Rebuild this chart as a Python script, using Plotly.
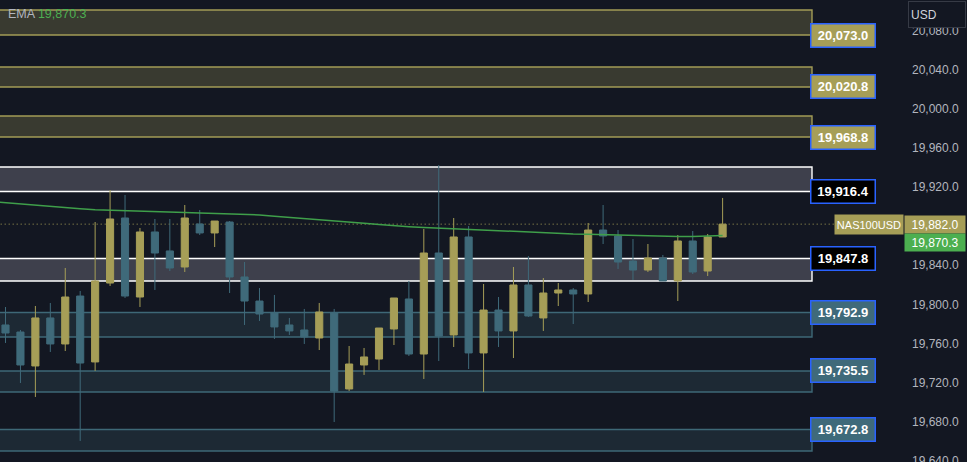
import plotly.graph_objects as go

# ---------------- data ----------------
opens = [19778.9, 19771.7, 19737.0, 19786.1, 19759.5, 19808.5, 19741.1, 19821.8, 19888.3, 19807.5,
         19874.0, 19854.6, 19838.2, 19882.2, 19873.0, 19884.2, 19828.0, 19803.4, 19791.2, 19778.9,
         19773.8, 19765.6, 19791.2, 19713.5, 19738.0, 19744.1, 19774.8, 19805.5, 19749.2, 19852.5,
         19768.7, 19868.9, 19750.3, 19794.2, 19772.8, 19819.8, 19786.1, 19811.6, 19814.7, 19810.6,
         19876.0, 19869.9, 19844.3, 19835.1, 19847.4, 19823.9, 19864.8, 19834.1, 19868.9]
highs = [19797.3, 19773.8, 19798.3, 19801.4, 19837.2, 19813.7, 19884.2, 19916.9, 19911.8, 19878.1,
         19887.3, 19887.3, 19901.6, 19896.5, 19885.2, 19885.2, 19843.3, 19816.7, 19809.6, 19786.1,
         19795.3, 19801.4, 19795.3, 19757.4, 19755.4, 19775.8, 19806.5, 19823.9, 19877.1, 19942.5,
         19888.3, 19880.1, 19820.8, 19807.5, 19838.2, 19849.4, 19826.9, 19821.8, 19816.7, 19883.2,
         19901.6, 19876.0, 19866.8, 19861.7, 19850.5, 19870.9, 19875.0, 19871.9, 19908.8]
lows = [19760.5, 19719.6, 19705.3, 19751.3, 19752.3, 19660.3, 19731.9, 19818.8, 19806.5, 19797.3,
        19814.7, 19834.1, 19833.1, 19870.9, 19858.6, 19811.6, 19778.9, 19783.0, 19764.6, 19768.7,
        19759.5, 19753.3, 19679.7, 19711.4, 19727.8, 19732.9, 19758.4, 19747.2, 19723.7, 19742.1,
        19756.4, 19733.9, 19710.4, 19756.4, 19745.1, 19787.1, 19772.8, 19798.3, 19779.9, 19802.4,
        19861.7, 19836.2, 19824.9, 19833.1, 19823.9, 19803.4, 19831.0, 19829.0, 19868.9]
closes = [19770.7, 19738.0, 19786.1, 19759.5, 19807.5, 19740.0, 19823.9, 19887.3, 19808.5, 19874.0,
          19852.5, 19837.2, 19888.3, 19873.0, 19885.2, 19828.0, 19803.4, 19790.1, 19776.9, 19772.8,
          19766.6, 19792.2, 19711.4, 19739.0, 19746.2, 19775.8, 19806.5, 19749.2, 19852.5, 19767.6,
          19868.9, 19750.3, 19794.2, 19772.8, 19819.8, 19788.1, 19811.6, 19814.7, 19810.6, 19876.0,
          19869.9, 19843.3, 19835.1, 19847.4, 19823.9, 19864.8, 19833.1, 19868.9, 19882.0]
candle_idx = list(range(len(opens)))

# EMA values (first one belongs to the bar just left of the view)
ema_values = [19905.1, 19903.8, 19902.7, 19901.4, 19900.2, 19898.9, 19897.8, 19896.8, 19896.2, 19895.7,
              19895.3, 19894.8, 19894.3, 19893.9, 19893.4, 19893.0, 19892.7, 19892.5, 19891.4, 19890.1,
              19889.0, 19888.0, 19886.9, 19885.6, 19884.4, 19883.0, 19881.6, 19880.2, 19879.4, 19878.6,
              19877.9, 19877.1, 19876.3, 19875.7, 19875.0, 19874.3, 19873.6, 19872.9, 19872.4, 19872.0,
              19871.7, 19871.2, 19870.7, 19870.2, 19869.9, 19869.6, 19869.4, 19869.4, 19869.5, 19870.3]
ema_idx = list(range(-1, len(ema_values) - 1))

zone_tops = [20101.0, 20042.7, 19992.6, 19940.5, 19846.9, 19791.7, 19731.9, 19672.0]
zone_bottoms = [20075.4, 20022.3, 19971.1, 19915.4, 19823.9, 19766.6, 19710.4, 19650.1]
zone_labels = ["20,073.0", "20,020.8", "19,968.8", "19,916.4", "19,847.8", "19,792.9", "19,735.5", "19,672.8"]
zone_kinds = ["res", "res", "res", "mid", "mid", "sup", "sup", "sup"]
label_on_top = [False, False, False, False, True, True, True, True]

last_price = 19882.0
ema_last = 19870.3
symbol = "NAS100USD"
currency = "USD"
y_ticks = list(range(19640, 20081, 40))

# ---------------- styles ----------------
BG = "#131722"
YEL = "#a69e57"
TEAL = "#3f6a7a"
GREEN = "#4caf50"
FONT = "Liberation Sans"
kind_style = {
    "res": dict(fill="#393a30", line="#a39c55", lab="#a69e57"),
    "mid": dict(fill="#3e404c", line="#ffffff", lab="#000000"),
    "sup": dict(fill="#1d2934", line="#3e6877", lab="#3f6a7a"),
}

PX = 14.94          # pixels per bar
X0 = -5.5 / PX      # left of view
PLOT_W = 905
def px2x(px):
    return X0 + px / PX

fig = go.Figure()

fig.add_trace(go.Candlestick(
    x=candle_idx, open=opens, high=highs, low=lows, close=closes,
    increasing=dict(line=dict(color=YEL, width=1), fillcolor=YEL),
    decreasing=dict(line=dict(color=TEAL, width=1), fillcolor=TEAL),
    whiskerwidth=0, hoverinfo="skip", showlegend=False,
))
fig.add_trace(go.Scatter(
    x=ema_idx, y=ema_values, mode="lines",
    line=dict(color="#3f9f4a", width=1.5), hoverinfo="skip", showlegend=False,
))

shapes = []
annotations = []
for top, bot, lab, kind, ontop in zip(zone_tops, zone_bottoms, zone_labels, zone_kinds, label_on_top):
    st = kind_style[kind]
    shapes.append(dict(type="rect", xref="x", yref="y", x0=-3, x1=px2x(812), y0=bot, y1=top,
                       fillcolor=st["fill"], line=dict(color=st["line"], width=1.4), layer="below"))
    annotations.append(dict(xref="x", yref="y", x=px2x(843), y=top if ontop else bot,
                            text="<b>%s</b>" % lab, showarrow=False, xanchor="center", yanchor="middle",
                            font=dict(family=FONT, size=13, color="#ffffff"),
                            bgcolor=st["lab"], bordercolor="#2962ff", borderwidth=1.5, borderpad=1,
                            width=61, height=20))

# last price dotted line
shapes.append(dict(type="line", xref="x", yref="y", x0=-3, x1=px2x(835), y0=last_price, y1=last_price,
                   line=dict(color=YEL, width=1, dash="1px,3px"), layer="below"))

annotations.append(dict(xref="paper", yref="y", x=869 / PLOT_W, y=last_price, text=symbol,
                        showarrow=False, xanchor="center", yanchor="middle",
                        font=dict(family=FONT, size=11, color="#ffffff"),
                        bgcolor=YEL, borderpad=1, width=66, height=17))
annotations.append(dict(xref="paper", yref="y", x=935 / PLOT_W, y=last_price, text=f"{last_price:,.1f}",
                        showarrow=False, xanchor="center", yanchor="middle",
                        font=dict(family=FONT, size=12, color="#ffffff"),
                        bgcolor=YEL, borderpad=1, width=58, height=15))
annotations.append(dict(xref="paper", yref="y", x=935 / PLOT_W, y=ema_last, yshift=-7,
                        text=f"{ema_last:,.1f}", showarrow=False, xanchor="center", yanchor="middle",
                        font=dict(family=FONT, size=12, color="#ffffff"),
                        bgcolor=GREEN, borderpad=1, width=58, height=15))
# legend text
annotations.append(dict(xref="paper", yref="paper", x=6 / PLOT_W, y=1 - 13.5 / 462,
                        text=f"EMA <span style='color:{GREEN}'>{ema_last:,.1f}</span>",
                        showarrow=False, xanchor="left", yanchor="middle",
                        font=dict(family=FONT, size=12.5, color="#b2b5be")))
# currency box
annotations.append(dict(xref="paper", yref="paper", x=936.7 / PLOT_W, y=1 - 14.7 / 462,
                        text=currency, showarrow=False, xanchor="center", yanchor="middle",
                        align="left", font=dict(family=FONT, size=12, color="#d1d4dc"),
                        bgcolor=BG, bordercolor="#363a45", borderwidth=1, borderpad=2,
                        width=52, height=21))

fig.update_layout(
    width=967, height=462,
    margin=dict(l=0, r=967 - PLOT_W, t=0, b=0),
    paper_bgcolor=BG, plot_bgcolor=BG,
    boxgap=0.32,
    shapes=shapes, annotations=annotations,
    showlegend=False,
    xaxis=dict(range=[X0, X0 + PLOT_W / PX], showgrid=False, zeroline=False, showticklabels=False,
               showline=False, rangeslider=dict(visible=False), fixedrange=True, automargin=False),
    yaxis=dict(range=[19638.8, 20111.2], side="right", showgrid=False, zeroline=False, showline=False,
               tickmode="array", tickvals=y_ticks, ticktext=[f"{v:,.1f}" for v in y_ticks],
               ticks="", ticklabelstandoff=6, ticklabeloverflow="allow", automargin=False,
               tickfont=dict(family=FONT, size=12, color="#b2b5be"), fixedrange=True),
    font=dict(family=FONT),
)

fig.write_html("out.html")
